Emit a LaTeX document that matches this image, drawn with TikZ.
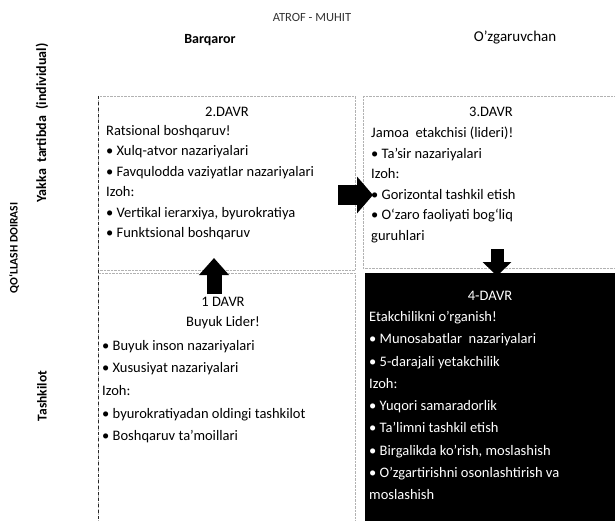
\documentclass[tikz,border=0pt]{standalone}
\usepackage{fontspec}
\setmainfont{Carlito}
\usetikzlibrary{arrows.meta,positioning}
\tikzset{
	cell/.style={draw=gray!60,densely dotted,rectangle,anchor=north west,inner sep=0pt},
	head/.style={align=center,inner sep=0pt,font=\fontsize{14.5}{20}\selectfont},
	body/.style={align=left,anchor=north west,inner sep=0pt,font=\fontsize{14.5}{20.5}\selectfont},
	wide/.style={font=\fontsize{14.5}{22.6}\selectfont},
	side/.style={rotate=90,inner sep=0pt,font=\bfseries\fontsize{13.5}{16}\selectfont},
	blk/.style={line width=15pt,-{Triangle[width=29pt,length=17pt]}}
}

\begin{document}
\begin{tikzpicture}[x=1pt,y=-1pt]
	\useasboundingbox (0,0) rectangle (615,521);
	% titles
	\node[font=\fontsize{12.5}{14}\selectfont,text=black!80] (env) at (312,17) {ATROF - MUHIT};
	\node[font=\bfseries\fontsize{14}{16}\selectfont] (sta) at (210,40) {Barqaror};
	\node[font=\fontsize{15}{17}\selectfont] (chg) at (515,38) {O’zgaruvchan};
	\node[side,font=\bfseries\fontsize{14}{16}\selectfont] (ind) at (42,123) {Yakka\ \ tartibda\ \ (individual)};
	\node[side] (org) at (42,396) {Tashkilot};
	\node[side,font=\bfseries\fontsize{11.5}{14}\selectfont] (sco) at (14,248) {QO‘LLASH DOIRASI};
	% the four periods
	\node[cell,minimum width=257pt,minimum height=174pt] (d2) at (98,96) {};
	\node[cell,minimum width=262pt,minimum height=172pt] (d3) at (363,96) {};
	\node[cell,minimum width=257pt,minimum height=260pt] (d1) at (98,273) {};
	\node[cell,fill=black,draw=none,minimum width=255pt,minimum height=255pt] (d4) at (365,273) {};
	\draw[dashed,black!85,thick] (d2.north west) -- (d1.south west);
	% texts
	\node[head] (h2) at (227,112) {2.DAVR};
	\node[body] (t2) at (106,125) {Ratsional boshqaruv!\\
		• Xulq-atvor nazariyalari\\
		• Favqulodda vaziyatlar nazariyalari\\
		Izoh:\\
		• Vertikal ierarxiya, byurokratiya\\
		• Funktsional boshqaruv};
	\node[head] (h3) at (491,112) {3.DAVR};
	\node[body] (t3) at (371,127) {Jamoa\ \ etakchisi (lideri)!\\
		• Ta’sir nazariyalari\\
		Izoh:\\
		• Gorizontal tashkil etish\\
		• O‘zaro faoliyati bog‘liq\\
		guruhlari};
	\node[head] (h1) at (223,313) {1 DAVR\\Buyuk Lider!};
	\node[body,wide] (t1) at (102,340) {• Buyuk inson nazariyalari\\
		• Xususiyat nazariyalari\\
		Izoh:\\
		• byurokratiyadan oldingi tashkilot\\
		• Boshqaruv ta’moillari};
	\node[head,text=white] (h4) at (490,296) {4-DAVR};
	\node[body,wide,text=white,font=\fontsize{14.5}{22.3}\selectfont] (t4) at (369,311) {Etakchilikni o’rganish!\\
		• Munosabatlar\ \ nazariyalari\\
		• 5-darajali yetakchilik\\
		Izoh:\\
		• Yuqori samaradorlik\\
		• Ta’limni tashkil etish\\
		• Birgalikda ko’rish, moslashish\\
		• O’zgartirishni osonlashtirish va\\
		moslashish};
	% arrows between periods
	\coordinate (up1) at (214,294);
	\coordinate (up2) at (214,258);
	\coordinate (rt1) at (338,195);
	\coordinate (rt2) at (373,195);
	\coordinate (dn1) at (497,249);
	\coordinate (dn2) at (497,276);
	\draw[blk] (up1) -- (up2);
	\draw[blk,line width=20pt,-{Triangle[width=36pt,length=16pt]}] (rt1) -- (rt2);
	\draw[blk,line width=13pt,-{Triangle[width=28pt,length=14pt]}] (dn1) -- (dn2);
\end{tikzpicture}
\end{document}
